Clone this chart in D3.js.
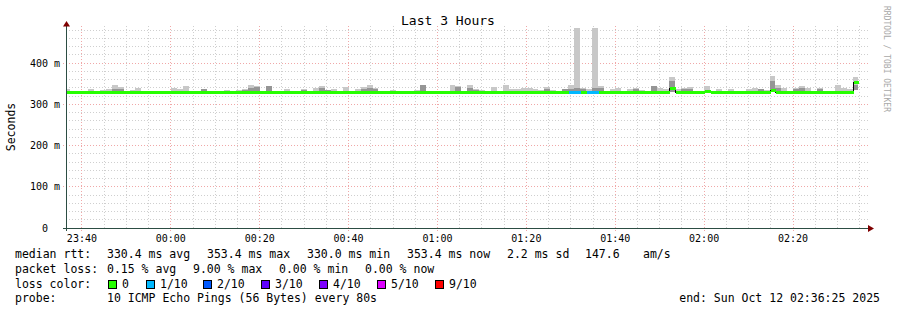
<!DOCTYPE html>
<html>
<head>
<meta charset="utf-8">
<script src="https://cdn.jsdelivr.net/npm/d3@7"></script>
<style>
html, body { margin: 0; padding: 0; background: #fff; }
svg text { font-family: "DejaVu Sans Mono", monospace; white-space: pre; }
</style>
</head>
<body>
<div id="chart"></div>
<script>
// ---- data (one value per 80 s step, first step starts 22 s before the window) ----
var median = [
  330, 330, 330, 330, 330, 330, 330, 330, 330, 330,
  330, 330, 330, 330, 330, 330, 330, 330, 330, 330,
  330, 330, 330, 330, 330, 330, 330, 330, 330, 330,
  330, 330, 330, 330, 330, 330, 330, 330, 330, 330,
  330, 330, 330, 330, 330, 330, 330, 330, 330, 330,
  330, 330, 330, 330, 330, 330, 330, 330, 330, 330,
  330, 330, 330, 330, 330, 330, 330, 330, 330, 330,
  330, 330, 330, 330, 330, 330, 330, 330, 330, 330,
  330, 330, 330, 330, 330, 330, 330, 330, 330, 330,
  330, 330, 330, 330, 330, 330, 330, 330, 330, 330,
  330, 330, 340, 330, 330, 330, 330, 330, 333, 330,
  330, 330, 330, 330, 330, 330, 330, 330, 330, 335,
  330, 330, 330, 330, 330, 330, 330, 330, 330, 330,
  330, 330, 330, 353.4
];
// lost pings out of 10
var loss = [
  0, 0, 0, 0, 0, 0, 0, 0, 0, 0,
  0, 0, 0, 0, 0, 0, 0, 0, 0, 0,
  0, 0, 0, 0, 0, 0, 0, 0, 0, 0,
  0, 0, 0, 0, 0, 0, 0, 0, 0, 0,
  0, 0, 0, 0, 0, 0, 0, 0, 0, 0,
  0, 0, 0, 0, 0, 0, 0, 0, 0, 0,
  0, 0, 0, 0, 0, 0, 0, 0, 0, 0,
  0, 0, 0, 0, 0, 0, 0, 0, 0, 0,
  0, 0, 0, 0, 0, 1, 1, 0, 1, 1,
  0, 0, 0, 0, 0, 0, 0, 0, 0, 0,
  0, 0, 0, 0, 0, 0, 0, 0, 0, 0,
  0, 0, 0, 0, 0, 0, 0, 0, 0, 0,
  0, 0, 0, 0, 0, 0, 0, 0, 0, 0,
  0, 0, 0, 0
];
// smoke: lowest ping, highest ping, and the dense (dark) band top
var smokeLo = [
  329, 329, 329, 329, 329, 329, 329, 329, 329, 329,
  329, 329, 329, 329, 329, 329, 329, 329, 329, 329,
  329, 329, 329, 329, 329, 329, 329, 329, 329, 329,
  329, 329, 329, 329, 329, 329, 329, 329, 329, 329,
  329, 329, 329, 329, 329, 329, 329, 329, 329, 329,
  329, 329, 329, 329, 329, 329, 329, 329, 329, 329,
  329, 329, 329, 329, 329, 329, 329, 329, 329, 329,
  329, 329, 329, 329, 329, 329, 329, 329, 329, 329,
  329, 329, 329, 329, 329, 329, 329, 329, 329, 329,
  329, 329, 329, 329, 329, 329, 329, 329, 329, 329,
  329, 329, 329, 329, 329, 329, 329, 329, 329, 329,
  329, 329, 329, 329, 329, 329, 329, 329, 329, 329,
  329, 329, 329, 329, 329, 329, 329, 329, 329, 329,
  329, 329, 329, 334
];
var smokeHi = [
  337, null, null, null, 337, null, 334, 337, 347, 342,
  null, 334, 339, null, null, null, null, null, 339, 337,
  344, null, null, 337, null, null, null, 334, null, 334,
  337, 347, 344, null, 344, null, null, 337, null, null,
  337, null, 339, 344, 334, 337, null, 341, null, 337,
  342, 346, 339, null, null, 334, null, null, null, 334,
  346, null, null, null, null, 346, 344, null, 346, 338,
  334, null, 343, null, 346, 338, 337, 339, 339, 337,
  334, 342, 334, null, 337, 346, 485, 339, 337, 485,
  344, null, 337, 339, null, 337, 339, 334, null, 344,
  339, 337, 366, 337, 339, 341, null, null, 344, null,
  336, null, 336, null, null, 336, 339, 337, 334, 369,
  347, 339, null, 339, 344, 339, null, 339, null, null,
  346, 339, 336, 366
];
var smokeMid = [
  null, null, null, null, null, null, null, null, 337, 337,
  null, null, null, null, null, null, null, null, null, null,
  null, null, null, 337, null, null, null, null, null, null,
  334, 339, 341, null, 344, null, null, null, null, null,
  334, null, null, 339, 334, null, null, null, null, null,
  337, 339, 337, null, null, null, null, null, null, null,
  346, null, null, null, null, null, 341, null, 339, 334,
  null, null, null, null, null, null, null, null, null, null,
  null, 337, null, null, 337, 337, 339, 337, null, 339,
  339, null, null, null, null, null, 337, null, null, 344,
  null, null, 356, null, 336, 337, null, null, null, null,
  null, null, null, null, null, null, null, 337, null, 356,
  339, null, null, 337, 339, null, null, 337, null, null,
  null, null, null, 347
];

var yTicks = [0, 100, 200, 300, 400];
var yTickLabels = ["  0  ", "100 m", "200 m", "300 m", "400 m"];

var lossLevels = [0, 1, 2, 3, 4, 5, 9];
var lossLabels = ["0", "1/10", "2/10", "3/10", "4/10", "5/10", "9/10"];
var lossColors = ["#26ff00", "#00b8ff", "#0059ff", "#5e00ff", "#7e00ff", "#dd00ff", "#ff0000"];

var rttStats = ["330.4 ms avg", "353.4 ms max", "330.0 ms min", "353.4 ms now", "2.2 ms sd", "147.6", "am/s"];
var lossStats = ["0.15 % avg", "9.00 % max", "0.00 % min", "0.00 % now"];

(function () {
var W = 897, H = 310;
var tEnd = new Date(2025, 9, 12, 2, 36, 25);
var tStart = d3.timeHour.offset(tEnd, -3);
var stepMs = 80000;
var firstStep = new Date(+tStart - 22000);

var pL = 66, pR = 866, pT = 24, pB = 228;

var x = d3.scaleTime().domain([tStart, tEnd]).range([pL, pR]);
var y = d3.scaleLinear().domain([0, (pB - pT) / 0.4125]).range([pB, pT]);

var svg = d3.select("#chart").append("svg")
    .attr("width", W)
    .attr("height", H)
    .style("display", "block");

svg.append("rect").attr("width", W).attr("height", H).attr("fill", "#fff");

var px = function (v) { return Math.floor(v) + 0.5; };

// grid
var grid = svg.append("g").attr("shape-rendering", "crispEdges");
var minorX = d3.timeMinute.every(5).range(tStart, tEnd);
var majorX = d3.timeMinute.every(20).range(tStart, tEnd);
var minorY = d3.range(20, 481, 20);

grid.selectAll(".gx").data(minorX).enter().append("line")
    .attr("x1", function (d) { return px(x(d)); })
    .attr("x2", function (d) { return px(x(d)); })
    .attr("y1", pT + 2).attr("y2", pB)
    .attr("stroke", "#cfcfcf").attr("stroke-dasharray", "1,2");
grid.selectAll(".gy").data(minorY).enter().append("line")
    .attr("y1", function (d) { return px(y(d)); })
    .attr("y2", function (d) { return px(y(d)); })
    .attr("x1", pL).attr("x2", pR + 2)
    .attr("stroke", "#cfcfcf").attr("stroke-dasharray", "1,2");
grid.selectAll(".mx").data(majorX).enter().append("line")
    .attr("x1", function (d) { return px(x(d)); })
    .attr("x2", function (d) { return px(x(d)); })
    .attr("y1", pT + 2).attr("y2", pB + 3)
    .attr("stroke", "#f0a8a8").attr("stroke-dasharray", "1,2");
grid.selectAll(".my").data(yTicks.slice(1)).enter().append("line")
    .attr("y1", function (d) { return px(y(d)); })
    .attr("y2", function (d) { return px(y(d)); })
    .attr("x1", pL - 3).attr("x2", pR + 2)
    .attr("stroke", "#f0a8a8").attr("stroke-dasharray", "1,2");

// plot clip
svg.append("clipPath").attr("id", "plot")
    .append("rect").attr("x", pL + 1).attr("y", 0).attr("width", pR - pL - 1).attr("height", pB);
var plot = svg.append("g").attr("clip-path", "url(#plot)").attr("shape-rendering", "crispEdges");

var steps = d3.range(median.length).map(function (i) {
    var t0 = new Date(+firstStep + i * stepMs);
    var t1 = new Date(+t0 + stepMs);
    return { i: i, t0: t0, t1: t1 };
});

// smoke
plot.selectAll(".smoke").data(steps.filter(function (d) { return smokeHi[d.i] != null; }))
    .enter().append("rect")
    .attr("x", function (d) { return Math.round(x(d.t0)); })
    .attr("width", function (d) { return Math.round(x(d.t1)) - Math.round(x(d.t0)); })
    .attr("y", function (d) { return Math.round(y(smokeHi[d.i])); })
    .attr("height", function (d) { return Math.round(y(smokeLo[d.i])) - Math.round(y(smokeHi[d.i])); })
    .attr("fill", "#c8c8c8");
plot.selectAll(".dense").data(steps.filter(function (d) { return smokeMid[d.i] != null; }))
    .enter().append("rect")
    .attr("x", function (d) { return Math.round(x(d.t0)); })
    .attr("width", function (d) { return Math.round(x(d.t1)) - Math.round(x(d.t0)); })
    .attr("y", function (d) { return Math.round(y(smokeMid[d.i])); })
    .attr("height", function (d) { return Math.round(y(smokeLo[d.i])) - Math.round(y(smokeMid[d.i])); })
    .attr("fill", "#959595");

// median: thin dark step line, then loss coloured segments
var medPts = steps.map(function (d) { return [Math.round(x(d.t0)) + 0.5, Math.round(y(median[d.i])) + 0.5]; });
var lastStep = steps[steps.length - 1];
medPts.push([Math.round(x(lastStep.t1)), Math.round(y(median[lastStep.i])) + 0.5]);
plot.append("path")
    .attr("d", d3.line().curve(d3.curveStepAfter)(medPts))
    .attr("fill", "none").attr("stroke", "#000").attr("stroke-width", 1);

function lossColor(n) {
    var idx = 0;
    lossLevels.forEach(function (lv, j) { if (n >= lv) idx = j; });
    return lossColors[idx];
}
plot.selectAll(".med").data(steps).enter().append("line")
    .attr("x1", function (d) { return Math.round(x(d.t0)) + 1; })
    .attr("x2", function (d) { return Math.round(x(d.t1)) + 1; })
    .attr("y1", function (d) { return Math.round(y(median[d.i])) + 0.5; })
    .attr("y2", function (d) { return Math.round(y(median[d.i])) + 0.5; })
    .attr("stroke", function (d) { return lossColor(loss[d.i]); })
    .attr("stroke-width", 3);

// axes
var axisCol = "#2c4d43";
svg.append("line").attr("x1", pL + 0.5).attr("x2", pL + 0.5).attr("y1", pB + 3).attr("y2", pT + 2)
    .attr("stroke", axisCol).attr("shape-rendering", "crispEdges");
svg.append("line").attr("x1", pL - 3).attr("x2", pR + 3).attr("y1", pB + 0.5).attr("y2", pB + 0.5)
    .attr("stroke", axisCol).attr("shape-rendering", "crispEdges");
svg.append("path").attr("d", "M" + (pL - 3) + "," + (pT + 2.5) + "L" + (pL + 0.5) + "," + (pT - 3) + "L" + (pL + 4) + "," + (pT + 2.5) + "Z")
    .attr("fill", "#7f0000");
svg.append("path").attr("d", "M" + (pR + 2) + "," + (pB - 3) + "L" + (pR + 8) + "," + (pB + 0.5) + "L" + (pR + 2) + "," + (pB + 4) + "Z")
    .attr("fill", "#7f0000");

// tick labels
svg.selectAll(".xl").data(majorX).enter().append("text")
    .attr("x", function (d) { return x(d); })
    .attr("y", 241.5)
    .attr("text-anchor", "middle")
    .attr("font-size", "10px")
    .text(d3.timeFormat("%H:%M"));
svg.selectAll(".yl").data(yTicks).enter().append("text")
    .attr("x", 60)
    .attr("y", function (d) { return y(d) + 3.5; })
    .attr("text-anchor", "end")
    .attr("font-size", "10px")
    .text(function (d, i) { return yTickLabels[i]; });

// title, axis label, watermark
svg.append("text").attr("x", 448).attr("y", 24.5).attr("text-anchor", "middle")
    .attr("font-size", "13px").text("Last 3 Hours");
svg.append("text").attr("transform", "translate(15,127) rotate(-90)").attr("text-anchor", "middle")
    .attr("font-size", "11.5px").text("Seconds");
svg.append("text").attr("transform", "translate(884,59) rotate(90)").attr("text-anchor", "middle")
    .attr("font-size", "8px").attr("fill", "#a8a8a8").text("RRDTOOL / TOBI OETIKER");

// legend
var lg = svg.append("g").attr("font-size", "11.5px");
lg.append("text").attr("x", 15).attr("y", 257.5).text("median rtt:");
var rttX = [107, 207, 307, 407, 507, 585, 643];
rttStats.forEach(function (s, i) { lg.append("text").attr("x", rttX[i]).attr("y", 257.5).text(s); });
lg.append("text").attr("x", 15).attr("y", 272.5).text("packet loss:");
var lossX = [107, 193, 279, 365];
lossStats.forEach(function (s, i) { lg.append("text").attr("x", lossX[i]).attr("y", 272.5).text(s); });
lg.append("text").attr("x", 15).attr("y", 287.5).text("loss color:");
var swX = [108, 146, 203, 261, 319, 377, 435];
lossLabels.forEach(function (s, i) {
    lg.append("rect").attr("x", swX[i] + 0.5).attr("y", 280.5).attr("width", 8).attr("height", 8)
        .attr("fill", lossColors[i]).attr("stroke", "#000").attr("shape-rendering", "crispEdges");
    lg.append("text").attr("x", swX[i] + 14).attr("y", 287.5).text(s);
});
lg.append("text").attr("x", 15).attr("y", 302).text("probe:");
lg.append("text").attr("x", 107).attr("y", 302).text("10 ICMP Echo Pings (56 Bytes) every 80s");
lg.append("text").attr("x", 880).attr("y", 302).attr("text-anchor", "end").text("end: Sun Oct 12 02:36:25 2025");
})();
</script>
</body>
</html>
